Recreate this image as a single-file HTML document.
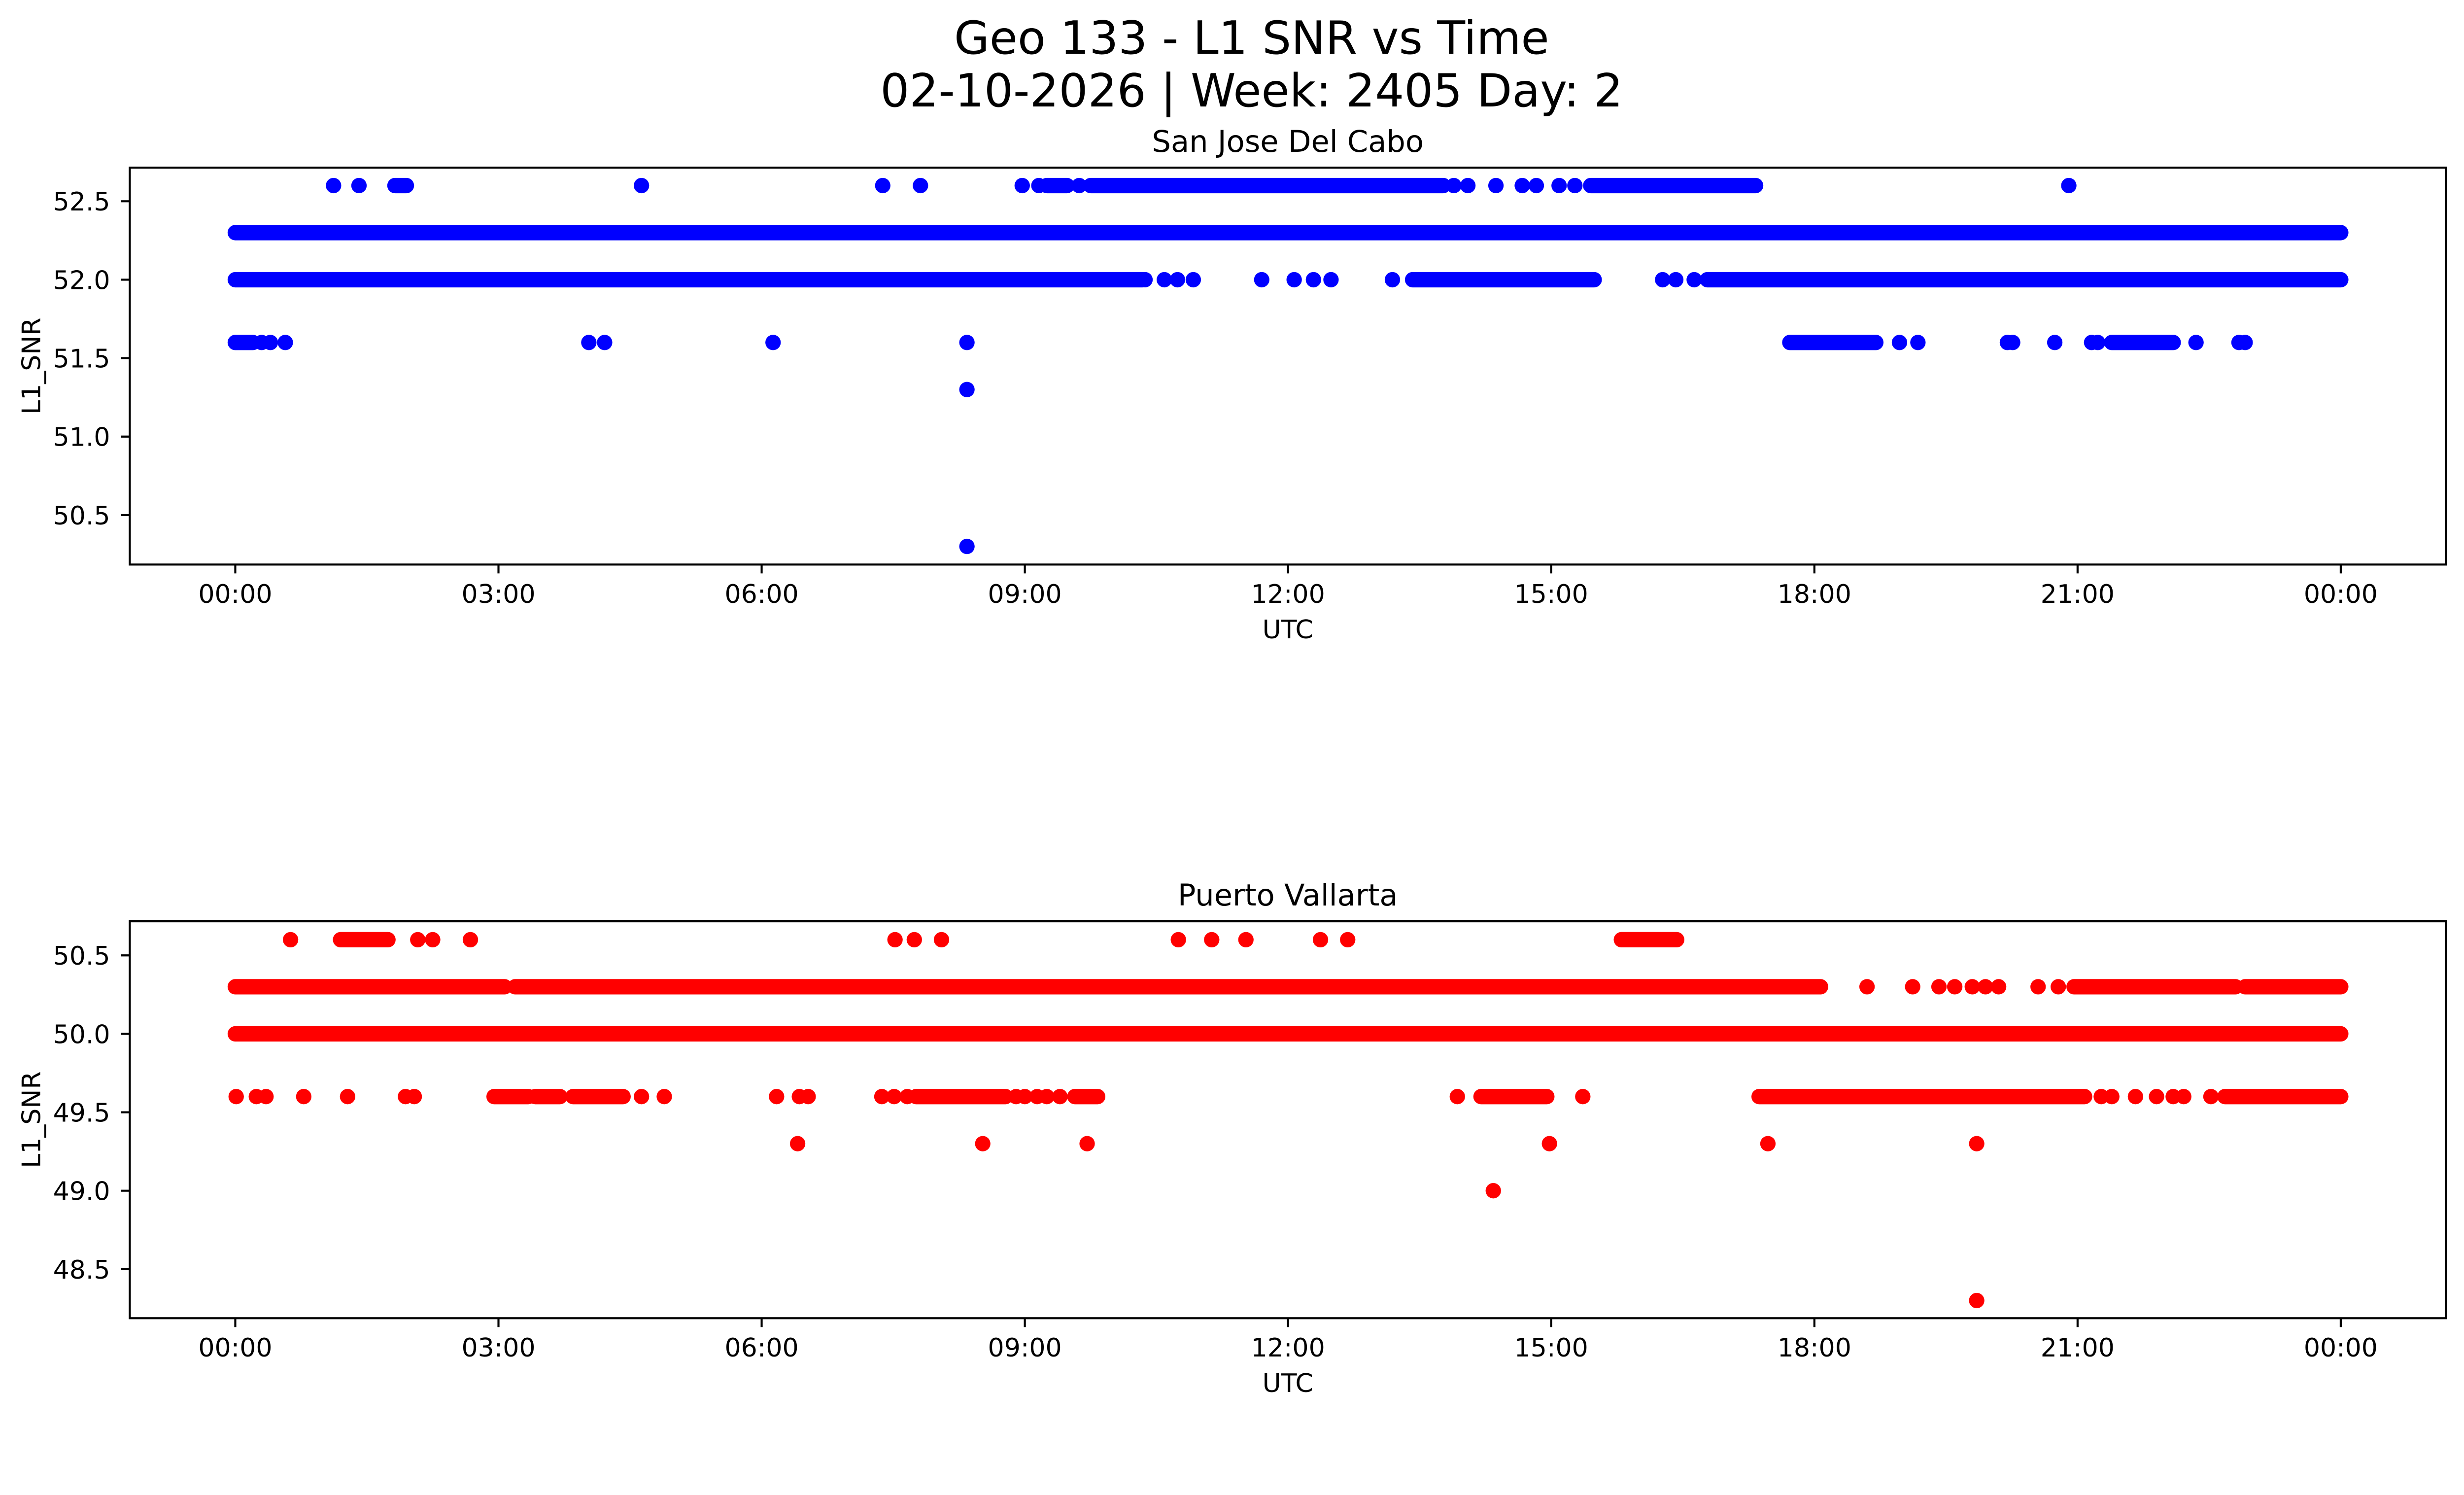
<!DOCTYPE html>
<html><head><meta charset="utf-8"><style>
html,body{margin:0;padding:0;background:#fff;overflow:hidden;width:100%;height:100%}
svg{display:block;width:100vw;height:100vh}
text{font-family:"DejaVu Sans","Liberation Sans",sans-serif;fill:#000}
</style></head><body>
<svg id="fig" viewBox="0 0 5278 3033" preserveAspectRatio="xMinYMin meet" xmlns="http://www.w3.org/2000/svg">
<rect width="5278" height="3033" fill="#fff"/>
<text x="2681" y="115" font-size="98" text-anchor="middle">Geo 133 - L1 SNR vs Time</text>
<text x="2681" y="228" font-size="98" text-anchor="middle">02-10-2026 | Week: 2405 Day: 2</text>
<g id="layer"></g>
</svg>
<script>
// x tick labels (hours)
const xTickHours = [0,3,6,9,12,15,18,21,24];
const xTickLabels = ["00:00","03:00","06:00","09:00","12:00","15:00","18:00","21:00","00:00"];
// Top panel: San Jose Del Cabo
const topTicks = [50.5,51.0,51.5,52.0,52.5];
const topRunStart = [0, 0,10.37,10.59,10.74,10.92,11.7,12.07,12.29,12.49,13.19,13.42,16.27,16.42,16.63,16.78,
  1.12,1.41,1.82,4.63,7.38,7.81,8.97,9.16,9.25,9.62,9.75,13.89,14.05,14.37,14.67,14.83,15.09,15.27,15.45,20.9,
  0,0.3,0.4,0.57,4.03,4.21,6.13,8.34,17.72,18.97,19.18,20.2,20.26,20.74,21.16,21.23,21.39,22.35,22.84,22.91,
  8.34,8.34];
const topRunEnd = [24,10.34,10.37,10.59,10.74,10.92,11.7,12.07,12.29,12.49,13.19,15.49,16.27,16.42,16.63,24,
  1.12,1.41,1.95,4.63,7.38,7.81,8.97,9.16,9.48,9.62,13.77,13.89,14.05,14.37,14.67,14.83,15.09,15.27,17.33,20.9,
  0.2,0.3,0.4,0.57,4.03,4.21,6.13,8.34,18.7,18.97,19.18,20.2,20.26,20.74,21.16,21.23,22.09,22.35,22.84,22.91,
  8.34,8.34];
const topRunValue = [52.3,52.0,52.0,52.0,52.0,52.0,52.0,52.0,52.0,52.0,52.0,52.0,52.0,52.0,52.0,52.0,
  52.6,52.6,52.6,52.6,52.6,52.6,52.6,52.6,52.6,52.6,52.6,52.6,52.6,52.6,52.6,52.6,52.6,52.6,52.6,52.6,
  51.6,51.6,51.6,51.6,51.6,51.6,51.6,51.6,51.6,51.6,51.6,51.6,51.6,51.6,51.6,51.6,51.6,51.6,51.6,51.6,
  51.3,50.3];
// Bottom panel: Puerto Vallarta
const botTicks = [48.5,49.0,49.5,50.0,50.5];
const botRunStart = [0,
  0,3.19,18.6,19.12,19.42,19.6,19.8,19.95,20.1,20.55,20.78,20.96,22.91,
  0.63,1.2,2.08,2.25,2.68,7.52,7.74,8.05,10.75,11.13,11.52,12.37,12.68,15.8,
  0.01,0.24,0.35,0.78,1.28,1.94,2.04,2.95,3.42,3.85,4.63,4.89,6.17,6.43,6.53,7.37,7.51,7.66,7.76,8.9,9.0,9.14,9.25,9.4,9.57,
  13.93,14.2,15.36,17.37,21.27,21.39,21.66,21.9,22.09,22.21,22.52,22.68,
  6.41,8.52,9.71,14.98,17.47,19.85,14.34,19.85];
const botRunEnd = [24,
  3.07,18.07,18.6,19.12,19.42,19.6,19.8,19.95,20.1,20.55,20.78,22.8,24,
  0.63,1.74,2.08,2.25,2.68,7.52,7.74,8.05,10.75,11.13,11.52,12.37,12.68,16.43,
  0.01,0.24,0.35,0.78,1.28,1.94,2.04,3.34,3.7,4.42,4.63,4.89,6.17,6.43,6.53,7.37,7.51,7.66,8.78,8.9,9.0,9.14,9.25,9.4,9.83,
  13.93,14.95,15.36,21.08,21.27,21.39,21.66,21.9,22.09,22.21,22.52,24,
  6.41,8.52,9.71,14.98,17.47,19.85,14.34,19.85];
const botRunValue = [50.0,
  50.3,50.3,50.3,50.3,50.3,50.3,50.3,50.3,50.3,50.3,50.3,50.3,50.3,
  50.6,50.6,50.6,50.6,50.6,50.6,50.6,50.6,50.6,50.6,50.6,50.6,50.6,50.6,
  49.6,49.6,49.6,49.6,49.6,49.6,49.6,49.6,49.6,49.6,49.6,49.6,49.6,49.6,49.6,49.6,49.6,49.6,49.6,49.6,49.6,49.6,49.6,49.6,49.6,
  49.6,49.6,49.6,49.6,49.6,49.6,49.6,49.6,49.6,49.6,49.6,49.6,
  49.3,49.3,49.3,49.3,49.3,49.3,49.0,48.3];

const NS = "http://www.w3.org/2000/svg";
const layer = document.getElementById('layer');
const AX_L = 278, AX_R = 5239;
const xScale = h => 504 + h * (5014 - 504) / 24;
function mk(tag, attrs, parent){ const e = document.createElementNS(NS, tag); for (const k in attrs) e.setAttribute(k, attrs[k]); parent.appendChild(e); return e; }

function panel(key, top, bottom, refVal, refY, title, ticks, rs, re, rv, color){
  const yScale = v => refY - (v - refVal) * 336;
  const g = mk('g', {}, layer);
  
  
  const t = mk('text', {x: (AX_L + AX_R) / 2, y: top - 34, 'font-size': 64, 'text-anchor': 'middle'}, g);
  t.textContent = title;
  
  
  const marks = mk('g', {}, g);
  
  
  for (let i = 0; i < rs.length; i++) {
    const ln = mk('line', {x1: xScale(rs[i]), x2: xScale(re[i]) + 0.01, y1: yScale(rv[i]), y2: yScale(rv[i]), stroke: color, 'stroke-width': 33, 'stroke-linecap': 'round'}, marks);
    
    
  }
  const fr = mk('rect', {x: AX_L, y: top, width: AX_R - AX_L, height: bottom - top, fill: 'none', stroke: '#000', 'stroke-width': 4.4}, g);
  
  
  for (let i = 0; i < xTickHours.length; i++) {
    const x = xScale(xTickHours[i]);
    const tk = mk('line', {x1: x, x2: x, y1: bottom, y2: bottom + 19, stroke: '#000', 'stroke-width': 4.4}, g);
    
    
    const lb = mk('text', {x: x, y: bottom + 82, 'font-size': 55, 'text-anchor': 'middle'}, g);
    lb.textContent = xTickLabels[i];
    
    
  }
  for (let i = 0; i < ticks.length; i++) {
    const y = yScale(ticks[i]);
    const tk = mk('line', {x1: AX_L - 19, x2: AX_L, y1: y, y2: y, stroke: '#000', 'stroke-width': 4.4}, g);
    
    
    const lb = mk('text', {x: 236, y: y + 20, 'font-size': 55, 'text-anchor': 'end'}, g);
    lb.textContent = ticks[i].toFixed(1);
    
    
  }
  const xl = mk('text', {x: (AX_L + AX_R) / 2, y: bottom + 158, 'font-size': 55, 'text-anchor': 'middle'}, g);
  xl.textContent = 'UTC';
  
  
  const cy = (top + bottom) / 2;
  const yl = mk('text', {x: 86, y: cy, 'font-size': 55, 'text-anchor': 'middle', transform: 'rotate(-90 86 ' + cy + ')'}, g);
  yl.textContent = 'L1_SNR';
  
  
}
panel('san-jose', 359, 1209, 52.0, 599, 'San Jose Del Cabo', topTicks, topRunStart, topRunEnd, topRunValue, '#0000ff');
panel('puerto-vallarta', 1973, 2823, 50.0, 2214, 'Puerto Vallarta', botTicks, botRunStart, botRunEnd, botRunValue, '#ff0000');
</script>
</body></html>
